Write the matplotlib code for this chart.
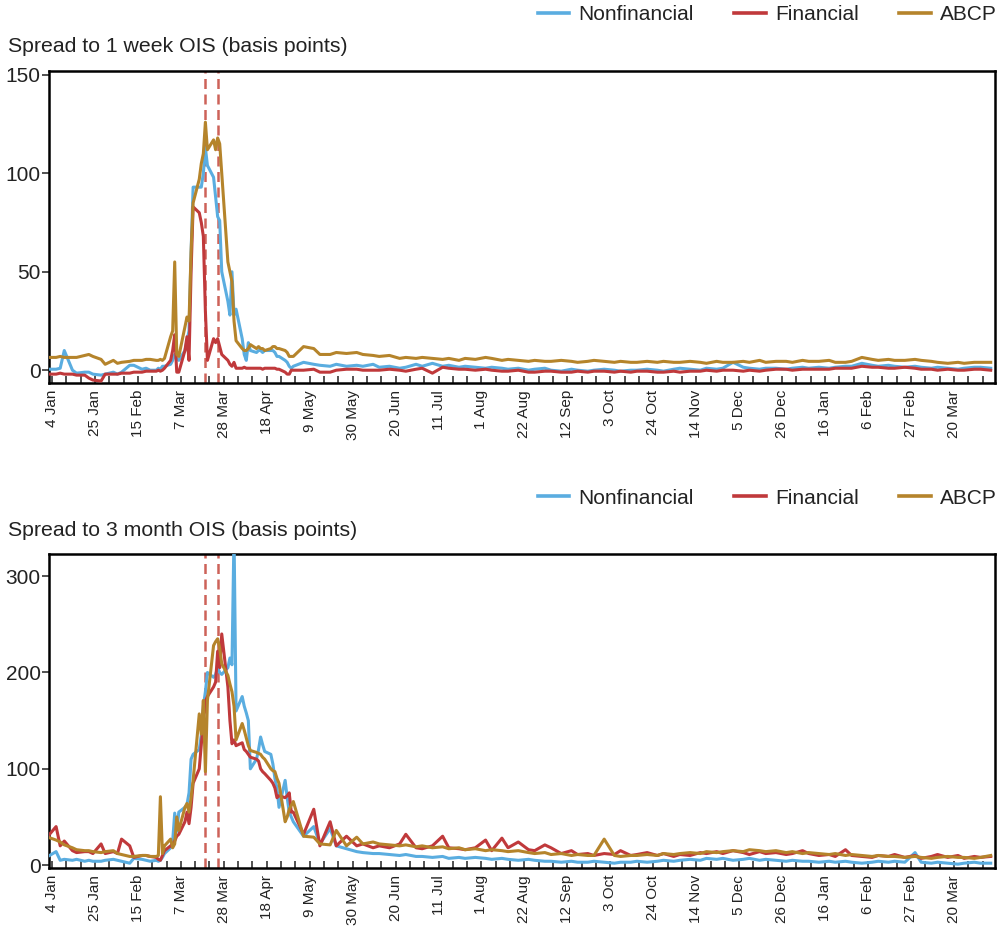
import matplotlib
matplotlib.use('Agg')
from matplotlib import pyplot as plt
import matplotlib.dates as mdates
from matplotlib.lines import Line2D
import pandas as pd

plt.rcParams['font.family'] = ['Liberation Sans', 'DejaVu Sans']

# observation dates: every 2nd business day in Jan-Feb, daily around the spike, every 3rd later
dates_early = pd.bdate_range('2020-01-02', '2020-02-21')[::2]
dates_spike = pd.bdate_range('2020-02-24', '2020-04-30')
dates_late = pd.date_range('2020-05-01', periods=82, freq='3B')
dates = dates_early.append(dates_spike).append(dates_late)

# spread to 1 week OIS (bp)
nonfin_1w = [0.5, 0.5, 1, 10, 0, -1.5, -1, -1, -2, -2.5, -2, -1, -2, -1, 2.5, 2.5, 0.5, 1, 0,
             0, 1, 0.5, 2, 2,
             3, 5, 8, 6, 5, 10, 15, 20, 60, 93, 93, 93, 100, 113, 104, 98, 88, 78, 76, 50,
             35, 28, 50, 28, 31, 16, 8, 5, 14, 10, 9, 10, 10, 9, 10, 10, 10, 9, 7, 7, 5, 4, 2, 1,
             2, 4, 3, 2.5, 2, 3, 2, 2.5, 2, 3,
             1.5, 2, 1, 1.5, 3, 2, 3.5, 2, 2.5, 1.5,
             2, 1.5, 1, 1.5, 1, 0.5, 1, 0, 0.5, 1,
             0, -0.5, 0.5, 0, -0.5, 0, 0.5, 0, -0.5, 0,
             0, 0.5, 0, -0.5, 0.5, 1, 0.5, 0, 1, 0.5,
             1, 4, 1.5, 1, 0.5, 1, 1, 0.5, 1, 1.5,
             1, 1.5, 1, 1.5, 2, 2, 3.5, 2.5, 2, 2.5,
             2, 1.5, 2, 1.5, 1, 1.5, 1, 0.5, 1, 1.5,
             1.5, 1]
fin_1w = [-2, -2, -1.5, -2, -2, -2.5, -2.5, -4, -5, -5.5, -2, -2, -2, -1.5, -1.5, -1, -1, -0.5, -0.5,
          -0.5, 0, -0.5, 0, 1,
          5, 10, 18, -1, -1, 10, 17, 5, 50, 83, 80, 75, 68, 30, 5, 16, 14, 16, 12, 8,
          5, 3, 2, 4, 1, 1, 1.5, 1, 1, 1, 1, 1, 1, 0.5, 1, 1, 1, 1, 0.5, 0.5, -1, -2, -2, 0,
          0, 0, 0.5, -1, -1, 0, 0.5, 0.5, 0, 0,
          0, 0.5, 0, -0.5, 0.5, 1, -1.5, 1.5, 1, 0.5,
          0.5, 0, 0.5, 0, -0.5, -0.5, 0, -1, -1, -0.5,
          -0.5, -1, -1, -0.5, -1, -0.5, -0.5, -1, -0.5, -1,
          -0.5, -0.5, -1, -1, -0.5, -1, -0.5, -0.5, 0, -0.5,
          0, 0, -0.5, 0, -0.5, 0, 0.5, 0.5, 0, 0.5,
          0.5, 0.5, 0.5, 1, 1, 1, 2, 1.5, 1.5, 1,
          1, 1.5, 1, 0.5, 0.5, 0, 0.5, 0, 0, 0.5,
          0.5, 0]
abcp_1w = [6.5, 6.5, 7, 6.5, 6.5, 6.5, 7.5, 8, 7, 5.5, 3, 5, 3.5, 4, 4.5, 5, 5, 5.5, 5.5,
           5, 5, 5.5, 5, 6,
           17, 20, 55, 8, 7, 22, 27, 25, 60, 85, 97, 105, 110, 126, 112, 117, 112, 118, 115, 100,
           55, 50, 45, 25, 15, 11, 10, 10, 11, 13, 11, 12, 11, 11, 10, 11, 12, 12, 11, 11, 10, 9, 7, 7,
           7, 12, 11, 8, 8, 9, 8.5, 9, 8, 7.5,
           7, 7.5, 6, 6.5, 6, 6.5, 6, 5.5, 6, 5,
           6, 5.5, 6.5, 6, 5, 5.5, 5, 4.5, 5, 4.5,
           4.5, 5, 4.5, 4, 4.5, 5, 4.5, 4, 4.5, 4,
           4, 4.5, 4, 4.5, 4, 4, 4.5, 4, 3.5, 4.5,
           4, 4, 4.5, 4, 5, 4, 4.5, 4.5, 4, 5,
           4.5, 4.5, 5, 4, 4, 4.5, 6.5, 5.5, 5, 5.5,
           5, 5, 5.5, 5, 4.5, 4, 3.5, 4, 3.5, 4,
           4, 4]

# spread to 3 month OIS (bp)
nonfin_3m = [9, 14, 5, 6, 5, 6, 4, 5, 4, 4, 5, 6, 5, 4, 2, 7, 6, 5, 4,
             5, 4, 5, 8, 12,
             18, 25, 54, 35, 55, 60, 63, 75, 110, 115, 120, 135, 165, 180, 200, 195, 198, 205, 200, 198,
             205, 215, 208, 345, 160, 175, 165, 158, 150, 100, 110, 120, 133, 125, 118,
             115, 105, 90, 80, 60, 88, 70, 55, 50,
             45, 30, 40, 22, 38, 20, 17, 14, 13, 12,
             12, 11, 10, 11, 9, 9, 8, 9, 7, 8,
             7, 8, 7, 6, 7, 6, 5, 6, 5, 4,
             4, 3, 4, 3, 3, 4, 3, 2, 3, 3,
             4, 3, 4, 5, 4, 5, 6, 5, 7, 6,
             7, 5, 6, 7, 5, 6, 5, 4, 5, 4,
             4, 3, 4, 3, 4, 3, 2, 3, 4, 3,
             4, 3, 13, 3, 2, 3, 2, 1, 2, 3,
             2, 2]
fin_3m = [30, 40, 20, 25, 15, 13, 14, 14, 12, 22, 12, 14, 12, 27, 20, 8, 10, 10, 9,
          8, 6, 5, 10, 15,
          20, 22, 25, 30, 32, 45, 55, 43, 60, 85, 100, 125, 150, 170, 175, 185, 190, 222, 205, 240,
          185, 150, 126, 130, 124, 127, 120, 118, 115, 112, 110, 108, 100, 97, 95,
          88, 85, 80, 70, 72, 70, 72, 75, 55,
          55, 32, 58, 20, 45, 20, 30, 20, 22, 18,
          20, 18, 22, 32, 18, 17, 20, 30, 18, 17,
          16, 18, 26, 15, 28, 18, 24, 16, 15, 21,
          18, 12, 15, 11, 12, 10, 12, 11, 15, 10,
          11, 13, 10, 12, 9, 11, 10, 13, 12, 14,
          12, 15, 13, 11, 14, 12, 13, 11, 12, 15,
          12, 10, 11, 9, 16, 10, 9, 8, 10, 9,
          11, 8, 10, 7, 9, 11, 8, 10, 7, 9,
          8, 9]
abcp_3m = [29, 26, 24, 21, 18, 16, 15, 15, 14, 13, 14, 15, 12, 11, 9, 9, 10, 10, 9,
           9, 10, 71, 12, 20,
           27, 18, 22, 50, 36, 60, 64, 55, 70, 88, 157, 136, 171, 97, 171, 228, 232, 235, 225, 209,
           197, 188, 180, 165, 130, 147, 140, 132, 124, 119, 117, 116, 115, 112, 110,
           100, 98, 97, 90, 85, 45, 50, 58, 62,
           66, 30, 29, 22, 21, 36, 20, 29, 22, 24,
           22, 21, 20, 21, 19, 20, 18, 19, 17, 18,
           16, 17, 15, 16, 15, 14, 15, 13, 12, 13,
           11, 12, 10, 11, 10, 10, 27, 10, 9, 10,
           10, 11, 10, 12, 11, 12, 13, 12, 14, 13,
           14, 15, 14, 16, 15, 14, 15, 13, 14, 12,
           13, 12, 11, 12, 10, 11, 10, 9, 10, 9,
           9, 8, 9, 8, 7, 8, 9, 8, 8, 7,
           8, 10]

event_dates = ['2020-03-19', '2020-03-25']
series_names = ['Nonfinancial', 'Financial', 'ABCP']
colors = ['#5aade0', '#c0393b', '#b5842b']
dash_color = '#cd6259'


def plot_panel(ax, data, ylim, yticks):
    for vals, c in zip(data, colors):
        ax.plot(dates, vals, color=c, linewidth=2.2, zorder=3)
    for d in event_dates:
        ax.axvline(pd.Timestamp(d), color=dash_color, linewidth=1.8,
                   linestyle=(0, (4, 2.2)), zorder=2)
    ax.set_ylim(ylim)
    ax.set_yticks(yticks)
    start = pd.Timestamp('2020-01-04')
    ax.set_xlim(start - pd.Timedelta(days=1.47), start + pd.Timedelta(days=461.1))
    ax.set_xticks(pd.date_range('2020-01-04', '2021-03-20', freq='21D'))
    ax.set_xticks(pd.date_range('2020-01-04', '2021-04-08', freq='7D'), minor=True)
    ax.xaxis.set_major_formatter(mdates.DateFormatter('%-d %b'))
    ax.tick_params(axis='x', which='both', direction='in', length=5, width=1.1,
                   labelsize=11, labelrotation=90, pad=5, color='#222222', labelcolor='#222222')
    ax.tick_params(axis='y', direction='out', length=5, width=1.1, pad=1,
                   labelsize=15, color='#222222', labelcolor='#222222')
    for s in ax.spines.values():
        s.set_linewidth(1.8)
        s.set_color('black')


fig = plt.figure(figsize=(10.03, 9.3), dpi=100)
ax1 = fig.add_axes([49/1003, 1-383/930, 946/1003, 312/930])
ax2 = fig.add_axes([49/1003, 1-868/930, 946/1003, 314/930])

plot_panel(ax1, [nonfin_1w, fin_1w, abcp_1w], (-6.5, 152), [0, 50, 100, 150])
plot_panel(ax2, [nonfin_3m, fin_3m, abcp_3m], (-3, 323), [0, 100, 200, 300])

handles = [Line2D([], [], color=c, linewidth=2.6) for c in colors]
for ytop, title, ytitle in [(15, 'Spread to 1 week OIS (basis points)', 47),
                            (498, 'Spread to 3 month OIS (basis points)', 530)]:
    fig.legend(handles, series_names, loc='center right',
               bbox_to_anchor=(997/1003, 1-ytop/930), ncol=3, frameon=False,
               fontsize=15, handlelength=1.5, handletextpad=0.45,
               columnspacing=1.95, borderaxespad=0, borderpad=0,
               labelcolor='#222222')
    fig.text(8/1003, 1-ytitle/930, title, fontsize=15.3, va='center', color='#222222')

fig.savefig('out.png', dpi=100)
